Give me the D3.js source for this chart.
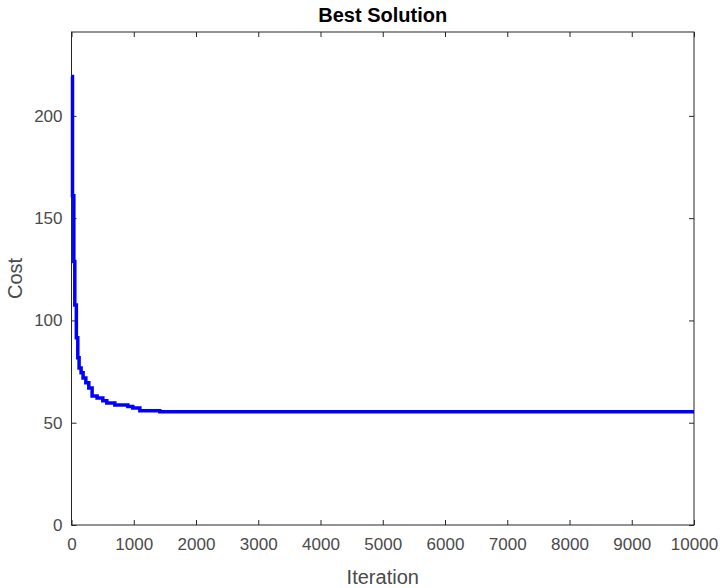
<!DOCTYPE html>
<html>
<head>
<meta charset="utf-8">
<script src="https://cdn.jsdelivr.net/npm/d3@7"></script>
<style>
  body { margin: 0; background: #fff; }
  svg text { font-family: "Liberation Sans", Arial, sans-serif; }
</style>
</head>
<body>
<svg id="canvas" width="720" height="588"></svg>
<script>
// best cost so far, changes only at these iterations (step plot)
const iterations = [0, 16, 37, 53, 78, 101, 122, 154, 186, 230, 278, 331, 411, 503, 567, 696, 905, 985, 1098, 1419, 10000];
const costs = [219.3, 161, 128.8, 107.6, 91.5, 81.7, 76.8, 74.4, 71.9, 69.5, 67, 63.1, 62.1, 60.8, 59.7, 58.7, 57.9, 57.2, 55.9, 55.4, 55.4];
const xTicks = [0, 1000, 2000, 3000, 4000, 5000, 6000, 7000, 8000, 9000, 10000];
const yTicks = [0, 50, 100, 150, 200];

const svg = d3.select("#canvas");
const plotLeft = 71.5, plotRight = 694, plotTop = 32, plotBottom = 525;
const axisColor = "#262626";
const textColor = "#4a4a4a";

const x = d3.scaleLinear().domain([0, 10000]).range([plotLeft, plotRight]);
const y = d3.scaleLinear().domain([0, 241]).range([plotBottom, plotTop]);

// box
svg.append("rect")
    .attr("x", plotLeft).attr("y", plotTop)
    .attr("width", plotRight - plotLeft).attr("height", plotBottom - plotTop)
    .attr("fill", "none").attr("stroke", axisColor).attr("stroke-width", 1);

// ticks (inward, on all four sides)
function styleAxis(g) {
    g.select(".domain").remove();
    g.selectAll(".tick line").attr("stroke", axisColor);
    g.selectAll(".tick text").attr("fill", textColor).attr("font-size", 17);
}

svg.append("g").attr("transform", `translate(0,${plotBottom})`)
    .call(d3.axisBottom(x).tickValues(xTicks).tickSize(-5).tickPadding(13).tickFormat(d3.format("d")))
    .call(styleAxis);
svg.append("g").attr("transform", `translate(0,${plotTop})`)
    .call(d3.axisTop(x).tickValues(xTicks).tickSize(-5).tickFormat(""))
    .call(styleAxis);
svg.append("g").attr("transform", `translate(${plotLeft},0)`)
    .call(d3.axisLeft(y).tickValues(yTicks).tickSize(-5).tickPadding(9))
    .call(styleAxis);
svg.append("g").attr("transform", `translate(${plotRight},0)`)
    .call(d3.axisRight(y).tickValues(yTicks).tickSize(-5).tickFormat(""))
    .call(styleAxis);

// curve
const data = iterations.map((it, i) => ({ it, c: costs[i] }));
svg.append("path")
    .datum(data)
    .attr("fill", "none")
    .attr("stroke", "#0000ff")
    .attr("stroke-width", 3.5)
    .attr("d", d3.line().curve(d3.curveStepAfter).x(d => x(d.it)).y(d => y(d.c)));

// labels
svg.append("text")
    .attr("x", (plotLeft + plotRight) / 2).attr("y", 22)
    .attr("text-anchor", "middle")
    .attr("font-size", 20).attr("font-weight", "bold").attr("fill", "#000")
    .text("Best Solution");

svg.append("text")
    .attr("x", (plotLeft + plotRight) / 2).attr("y", 584)
    .attr("text-anchor", "middle")
    .attr("font-size", 20).attr("fill", textColor)
    .text("Iteration");

svg.append("text")
    .attr("transform", `translate(22,${(plotTop + plotBottom) / 2}) rotate(-90)`)
    .attr("text-anchor", "middle")
    .attr("font-size", 20).attr("fill", textColor)
    .text("Cost");
</script>
</body>
</html>
